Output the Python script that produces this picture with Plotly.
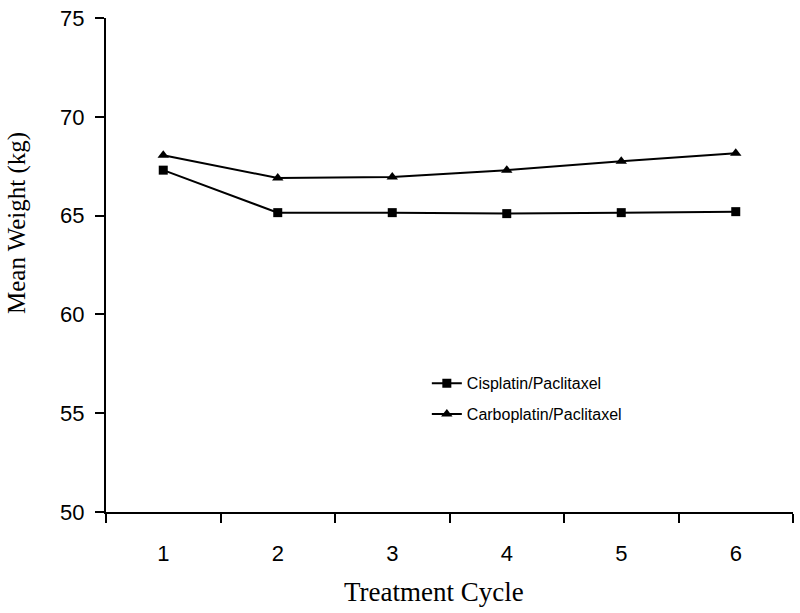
import plotly.graph_objects as go

# ── Data ────────────────────────────────────────────────────────────────────
cycles = ["1", "2", "3", "4", "5", "6"]
cisplatin = [67.3, 65.15, 65.15, 65.1, 65.15, 65.2]
carboplatin = [68.05, 66.9, 66.95, 67.3, 67.75, 68.15]
y_ticks = [50, 55, 60, 65, 70, 75]

x_title = "Treatment Cycle"
y_title = "Mean Weight (kg)"

_SANS = "Liberation Sans, Arial, sans-serif"
_SERIF = "Liberation Serif, Times New Roman, serif"

fig = go.Figure()
fig.add_trace(
    go.Scatter(
        x=cycles,
        y=cisplatin,
        name="Cisplatin/Paclitaxel",
        mode="lines+markers",
        line=dict(color="black", width=2),
        marker=dict(symbol="square", size=9, color="black"),
        legendgroup="a",
    )
)
fig.add_trace(
    go.Scatter(
        x=cycles,
        y=carboplatin,
        name="Carboplatin/Paclitaxel",
        mode="lines+markers",
        line=dict(color="black", width=2),
        marker=dict(symbol="triangle-up", size=10, color="black"),
        legendgroup="b",
    )
)

fig.update_layout(
    width=800,
    height=613,
    paper_bgcolor="white",
    plot_bgcolor="white",
    margin=dict(l=106, r=7, t=18, b=101, autoexpand=False),
    font=dict(family=_SANS, color="black"),
    showlegend=True,
    legend=dict(
        x=0.467,
        y=0.295,
        xanchor="left",
        yanchor="top",
        bgcolor="rgba(0,0,0,0)",
        font=dict(family=_SANS, size=16),
        traceorder="grouped",
        tracegroupgap=7,
    ),
)

# axis titles placed as annotations (they sit off-centre in the original)
fig.add_annotation(
    text=x_title, xref="paper", yref="paper", x=0.477, y=-0.162,
    xanchor="center", yanchor="middle", showarrow=False,
    font=dict(family=_SERIF, size=27),
)
fig.add_annotation(
    text=y_title, xref="paper", yref="paper", x=-0.1295, y=0.585,
    xanchor="center", yanchor="middle", showarrow=False, textangle=-90,
    font=dict(family=_SERIF, size=25),
)

fig.update_xaxes(
    type="category",
    range=[-0.5, 5.5],
    automargin=False,
    showline=True,
    linecolor="black",
    linewidth=2,
    showgrid=False,
    zeroline=False,
    ticks="outside",
    tickson="boundaries",
    ticklen=9,
    tickwidth=2,
    tickcolor="black",
    ticklabelstandoff=21,
    tickfont=dict(family=_SANS, size=22),
)
fig.update_yaxes(
    range=[50, 75],
    tickvals=y_ticks,
    automargin=False,
    showline=True,
    linecolor="black",
    linewidth=2,
    showgrid=False,
    zeroline=False,
    ticks="outside",
    ticklen=9,
    tickwidth=2,
    tickcolor="black",
    ticklabelstandoff=6,
    ticklabeloverflow="allow",
    tickfont=dict(family=_SANS, size=22),
)

# drop the page's default 8px body margin so the figure fills the window
fig.write_html(
    "out.html",
    config={"displayModeBar": False},
    post_script="document.body.style.margin='0';",
)
